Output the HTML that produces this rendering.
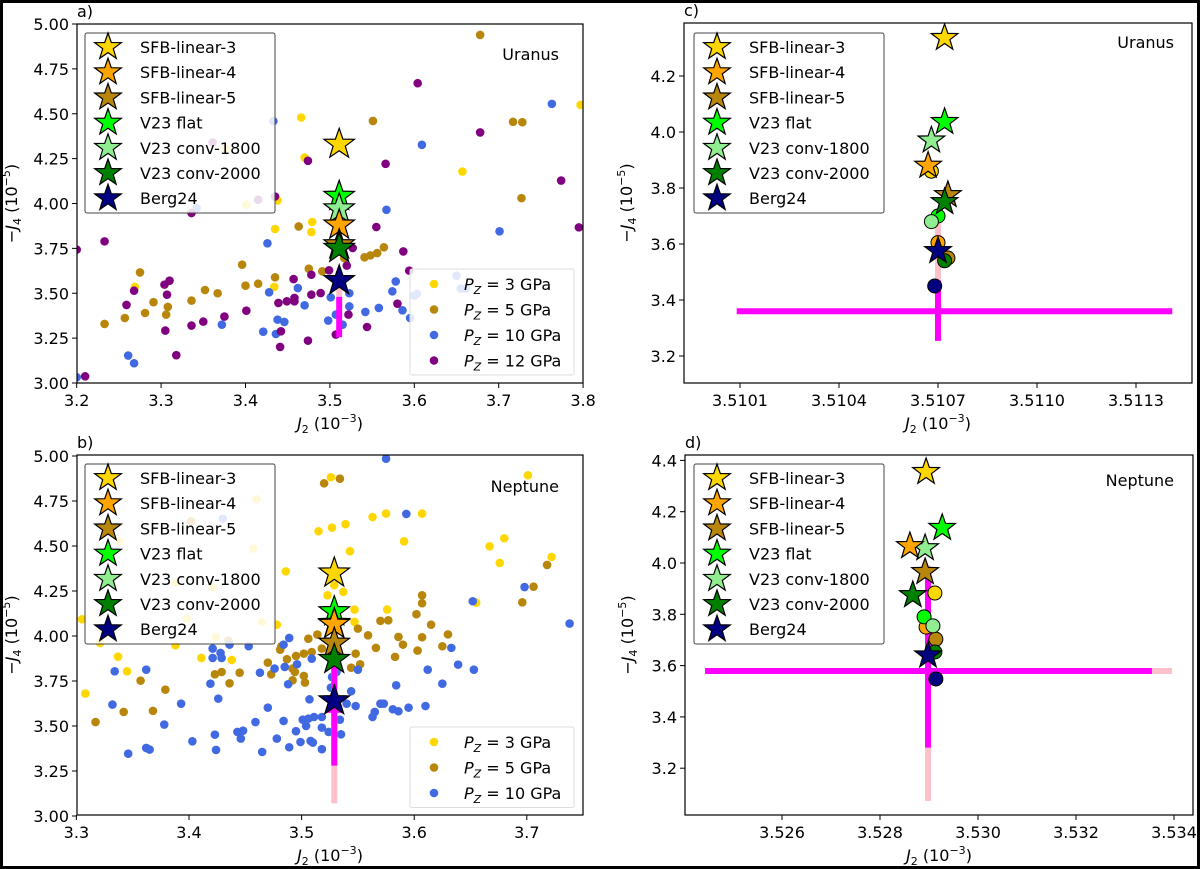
<!DOCTYPE html>
<html><head><meta charset="utf-8"><style>
body{margin:0;background:#fff;}
svg{display:block;font-family:"DejaVu Sans","Liberation Sans",sans-serif;}
</style></head><body>
<svg id="fig" width="1200" height="869" viewBox="0 0 1200 869" xmlns="http://www.w3.org/2000/svg">
<rect x="1.5" y="1.5" width="1197" height="866" fill="#fff" stroke="#000" stroke-width="3"/>
</svg>
<script>
// ---------- DATA ----------
const a3x=[3.466,3.470,3.657,3.797,3.438,3.479,3.435,3.478,3.434,3.269,3.377,3.401];
const a3y=[4.479,4.256,4.178,4.549,4.017,3.897,3.858,3.841,3.535,3.535,4.305,3.993];
const a5x=[3.678,3.551,3.717,3.728,3.727,3.463,3.396,3.475,3.491,3.435,3.415,3.400,3.352,3.367,3.336,3.291,3.275,3.308,3.281,3.306,3.257,3.233,3.541,3.548,3.556,3.564,3.517];
const a5y=[4.939,4.460,4.455,4.453,4.030,3.872,3.659,3.637,3.622,3.589,3.553,3.542,3.518,3.500,3.459,3.450,3.616,3.424,3.390,3.381,3.362,3.329,3.700,3.711,3.724,3.756,3.696];
const a10x=[3.433,3.609,3.763,3.701,3.567,3.426,3.578,3.574,3.428,3.462,3.501,3.523,3.523,3.542,3.558,3.586,3.595,3.470,3.438,3.446,3.372,3.421,3.436,3.498,3.515,3.507,3.261,3.268,3.200,3.650,3.603,3.600,3.655,3.661,3.342];
const a10y=[4.459,4.327,4.555,3.845,3.965,3.778,3.566,3.511,3.505,3.529,3.477,3.500,3.427,3.396,3.418,3.405,3.362,3.433,3.353,3.340,3.325,3.286,3.273,3.348,3.325,3.381,3.153,3.110,3.032,3.598,3.496,3.487,3.526,3.526,3.974];
const a12x=[3.604,3.678,3.474,3.566,3.774,3.795,3.435,3.336,3.233,3.200,3.527,3.587,3.555,3.594,3.520,3.478,3.499,3.457,3.304,3.310,3.268,3.307,3.489,3.478,3.439,3.449,3.458,3.458,3.259,3.375,3.350,3.336,3.305,3.401,3.441,3.474,3.442,3.507,3.544,3.580,3.522,3.318,3.210,3.361,3.415];
const a12y=[4.670,4.396,4.238,4.221,4.128,3.867,4.039,3.947,3.789,3.743,3.752,3.733,3.869,3.626,3.654,3.603,3.628,3.579,3.548,3.570,3.514,3.492,3.501,3.492,3.446,3.455,3.474,3.455,3.435,3.370,3.342,3.320,3.292,3.403,3.201,3.236,3.288,3.270,3.312,3.442,3.381,3.155,3.037,4.340,4.021];
const b3x=[3.526,3.575,3.563,3.607,3.539,3.527,3.515,3.591,3.543,3.667,3.680,3.676,3.722,3.701,3.486,3.529,3.537,3.523,3.547,3.576,3.547,3.655,3.305,3.337,3.345,3.308,3.411,3.438,3.478,3.460,3.457,3.402,3.338,3.388,3.421,3.398,3.465,3.424,3.388,3.321];
const b3y=[4.882,4.680,4.661,4.680,4.621,4.602,4.582,4.526,4.471,4.498,4.543,4.406,4.439,4.893,4.359,4.282,4.245,4.226,4.147,4.147,4.078,4.185,4.093,3.885,3.804,3.680,3.878,3.867,4.063,4.760,4.485,4.637,4.526,4.295,4.272,4.097,4.078,3.995,3.948,3.961];
const b5x=[3.520,3.534,3.607,3.607,3.602,3.615,3.696,3.706,3.718,3.570,3.577,3.559,3.550,3.586,3.590,3.566,3.583,3.603,3.607,3.625,3.630,3.548,3.552,3.544,3.506,3.514,3.518,3.509,3.502,3.495,3.481,3.487,3.470,3.473,3.492,3.494,3.502,3.503,3.492,3.423,3.429,3.445,3.436,3.357,3.379,3.342,3.368,3.317,3.402,3.435,3.482];
const b5y=[4.848,4.874,4.226,4.182,4.121,4.063,4.187,4.274,4.395,4.084,4.087,4.004,4.041,3.995,3.952,3.934,3.884,3.919,3.993,3.943,4.009,3.902,3.843,3.824,3.985,4.008,3.930,3.911,3.902,3.889,3.924,3.871,3.852,3.787,3.819,3.800,3.778,3.741,3.754,3.787,3.800,3.796,3.737,3.752,3.702,3.578,3.584,3.522,4.637,3.974,3.943];
const b10x=[3.575,3.593,3.430,3.652,3.698,3.738,3.633,3.639,3.653,3.612,3.625,3.584,3.489,3.484,3.453,3.436,3.421,3.428,3.421,3.429,3.362,3.334,3.476,3.485,3.496,3.509,3.463,3.488,3.550,3.544,3.419,3.426,3.332,3.393,3.470,3.507,3.527,3.531,3.526,3.540,3.548,3.570,3.573,3.581,3.586,3.595,3.610,3.565,3.563,3.501,3.506,3.511,3.518,3.534,3.484,3.459,3.378,3.448,3.443,3.423,3.446,3.403,3.478,3.495,3.504,3.518,3.524,3.535,3.499,3.508,3.510,3.489,3.518,3.465,3.424,3.362,3.365,3.346];
const b10y=[4.985,4.678,4.652,4.193,4.272,4.069,3.934,3.841,3.813,3.813,3.735,3.726,3.989,3.952,3.943,3.952,3.930,3.906,3.878,3.878,3.813,3.804,3.819,3.828,3.843,3.874,3.796,3.732,3.813,3.693,3.735,3.652,3.619,3.624,3.602,3.648,3.772,3.800,3.713,3.624,3.611,3.624,3.624,3.593,3.582,3.602,3.611,3.578,3.550,3.535,3.541,3.550,3.550,3.535,3.528,3.522,3.508,3.474,3.467,3.452,3.430,3.415,3.430,3.471,3.500,3.491,3.467,3.454,3.411,3.417,3.408,3.382,3.371,3.356,3.367,3.378,3.369,3.346];
const modelNames=["SFB-linear-3","SFB-linear-4","SFB-linear-5","V23 flat","V23 conv-1800","V23 conv-2000","Berg24"];
const aStarX=[3.511,3.511,3.511,3.511,3.511,3.511,3.511];
const aStarY=[4.33,3.88,3.77,4.04,3.97,3.75,3.57];
const bStarX=[3.529,3.529,3.529,3.529,3.529,3.529,3.529];
const bStarY=[4.35,4.065,3.96,4.135,4.07,3.87,3.64];
const cStarX=[3.51072,3.51067,3.51073,3.51072,3.51068,3.51072,3.5107];
const cStarY=[4.336,3.88,3.775,4.036,3.97,3.75,3.575];
const cCircX=[3.51068,3.5107,3.51073,3.5107,3.51068,3.51072,3.51069];
const cCircY=[3.86,3.605,3.55,3.70,3.68,3.54,3.45];
const dStarX=[3.52894,3.52861,3.52892,3.52927,3.52892,3.52867,3.52898];
const dStarY=[4.355,4.066,3.965,4.137,4.058,3.875,3.64];
const dCircX=[3.52912,3.52894,3.52914,3.5289,3.52908,3.52912,3.52914];
const dCircY=[3.883,3.75,3.703,3.79,3.755,3.653,3.548];
const aObs={x:3.511,yPink:[3.48,3.58],yMag:[3.255,3.48]};
const bObs={x:3.529,y:3.59,yPink:[3.07,4.0],yMag:[3.28,3.89],xMag:[3.5225,3.5355]};
const cObs={x:3.5107,y:3.36,yPink:[3.47,3.675],yMag:[3.254,3.47],xMag:[3.51009,3.51141]};
const dObs={x:3.52898,y:3.579,yPink:[3.072,3.99],yMag:[3.28,3.985],xMag:[3.52443,3.53355],xPink:[3.53355,3.53396]};
const aXT=[3.2,3.3,3.4,3.5,3.6,3.7,3.8], abYT=[3.00,3.25,3.50,3.75,4.00,4.25,4.50,4.75,5.00];
const bXT=[3.3,3.4,3.5,3.6,3.7];
const cXT=[3.5101,3.5104,3.5107,3.5110,3.5113], cYT=[3.2,3.4,3.6,3.8,4.0,4.2];
const dXT=[3.526,3.528,3.530,3.532,3.534], dYT=[3.2,3.4,3.6,3.8,4.0,4.2,4.4];

// ---------- RENDER ----------
const NS="http://www.w3.org/2000/svg", svg=document.getElementById('fig');
const starCols=["#FFD700","#FFA500","#B8860B","#00FF00","#90EE90","#008000","#000080"];
const scCols={p3:"#FFD700",p5:"#B8860B",p10:"#4169E1",p12:"#800080"};
function el(tag,attrs,parent){const e=document.createElementNS(NS,tag);for(const k in attrs)e.setAttribute(k,attrs[k]);(parent||svg).appendChild(e);return e;}
function starPts(cx,cy,R){let p=[];for(let i=0;i<10;i++){const r=i%2?R*0.4:R;const t=-Math.PI/2+i*Math.PI/5;p.push((cx+r*Math.cos(t)).toFixed(1)+","+(cy+r*Math.sin(t)).toFixed(1));}return p.join(" ");}
function mkAxis(box,x0v,x0p,sx,y0v,y0p,sy){return{box,X:v=>x0p+(v-x0v)*sx,Y:v=>y0p-(v-y0v)*sy};}
const A=mkAxis([77,24,583,383],3.2,76.7,844,5.0,24,179.5);
const B=mkAxis([77,455,583,815],3.4,189,1126,5.0,456,180);
const C=mkAxis([684,23,1192,383],3.5107,938,330000,4.0,132,280);
const D=mkAxis([685,455,1193,815],3.530,978,49000,4.0,563,256.5);

function panel(ax,id){
  const g=el('g',{});
  
  
  const [x1,y1,x2,y2]=ax.box;
  const cp=el('clipPath',{id:'clip'+id},g);el('rect',{x:x1,y:y1,width:x2-x1,height:y2-y1},cp);
  const plot=el('g',{'clip-path':'url(#clip'+id+')'},g);
  
  
  return {g,plot};
}
function frame(ax,g,id,xt,yt,xfmt,yfmt){
  const [x1,y1,x2,y2]=ax.box;
  const r=el('rect',{x:x1,y:y1,width:x2-x1,height:y2-y1,fill:'none',stroke:'#000','stroke-width':1.2},g);
  
  xt.forEach(v=>{const x=ax.X(v);el('line',{x1:x,x2:x,y1:y2,y2:y2+5,stroke:'#000'},g);
    const t=el('text',{x:x,y:y2+23,'font-size':16,'text-anchor':'middle'},g);t.textContent=xfmt(v);
    });
  yt.forEach(v=>{const y=ax.Y(v);el('line',{x1:x1-5,x2:x1,y1:y,y2:y,stroke:'#000'},g);
    const t=el('text',{x:x1-8,y:y+6,'font-size':16,'text-anchor':'end'},g);t.textContent=yfmt(v);
    });
  const cx=(x1+x2)/2;
  const xl=el('text',{x:cx,y:y2+46,'font-size':16,'text-anchor':'middle'},g);
  xl.innerHTML='<tspan font-style="italic">J</tspan><tspan font-size="11" dy="4">2</tspan><tspan dy="-4"> (10</tspan><tspan font-size="11" dy="-7">−3</tspan><tspan dy="7">)</tspan>';
  
  const ylx=x1-(id==='a'||id==='b'?60:52), yly=(y1+y2)/2;
  const yl=el('text',{x:ylx,y:yly,'font-size':16,'text-anchor':'middle',transform:`rotate(-90 ${ylx} ${yly})`},g);
  yl.innerHTML='−<tspan font-style="italic">J</tspan><tspan font-size="11" dy="4">4</tspan><tspan dy="-4"> (10</tspan><tspan font-size="11" dy="-7">−5</tspan><tspan dy="7">)</tspan>';
  
  const pl=el('text',{x:x1,y:y1-7,'font-size':16},g);pl.textContent=id+')';
  
}
function scatter(ax,parent,xs,ys,col,name){
  xs.forEach((x,i)=>{const c=el('circle',{cx:ax.X(x),cy:ax.Y(ys[i]),r:4.3,fill:col},parent);
    });
}
function vbar(ax,parent,x,r,col,name){const l=el('line',{x1:ax.X(x),x2:ax.X(x),y1:ax.Y(r[0]),y2:ax.Y(r[1]),stroke:col,'stroke-width':6},parent);
  }
function hbar(ax,parent,y,r,col,name){const l=el('line',{x1:ax.X(r[0]),x2:ax.X(r[1]),y1:ax.Y(y),y2:ax.Y(y),stroke:col,'stroke-width':6},parent);
  }
function stars(ax,parent,xs,ys,R){
  const order=[0,3,4,1,2,5,6];
  order.forEach(i=>{const s=el('polygon',{points:starPts(ax.X(xs[i]),ax.Y(ys[i]),R),fill:starCols[i],stroke:'#000','stroke-width':1.2},parent);
    });
}
function circles(ax,parent,xs,ys){
  xs.forEach((x,i)=>{const c=el('circle',{cx:ax.X(x),cy:ax.Y(ys[i]),r:7,fill:starCols[i],stroke:'#000','stroke-width':1},parent);
    });
}
function starLegend(g,x,y,w){
  const lg=el('g',{},g);
  el('rect',{x:x,y:y,width:w,height:180,fill:'#fff','fill-opacity':0.85,stroke:'#444','stroke-width':1,rx:2},lg);
  modelNames.forEach((n,i)=>{const cy=y+14+i*25.2;
    const e=el('g',{},lg);
    el('polygon',{points:starPts(x+23,cy,14),fill:starCols[i],stroke:'#000','stroke-width':1.2},e);
    const t=el('text',{x:x+55,y:cy+6,'font-size':16},e);t.textContent=n;});
}
function scLegend(g,x,y,items){
  const lg=el('g',{},g);
  el('rect',{x:x,y:y,width:164,height:items.length*25.5+4,fill:'#fff','fill-opacity':0.85,stroke:'#ddd','stroke-width':1,rx:2},lg);
  items.forEach((it,i)=>{const cy=y+15+i*25.5;
    const e=el('g',{},lg);
    el('circle',{cx:x+24,cy:cy,r:4.3,fill:it[1]},e);
    const t=el('text',{x:x+54,y:cy+6,'font-size':16},e);
    t.innerHTML='<tspan font-style="italic">P</tspan><tspan font-style="italic" font-size="11" dy="4">Z</tspan><tspan dy="-4"> = '+it[0]+' GPa</tspan>';});
}
function planet(g,x,y,name){const t=el('text',{x:x,y:y,'font-size':16,'text-anchor':'end'},g);t.textContent=name;
  }

let P=panel(A,'a');
scatter(A,P.plot,a3x,a3y,scCols.p3,'point-3gpa');scatter(A,P.plot,a5x,a5y,scCols.p5,'point-5gpa');
scatter(A,P.plot,a10x,a10y,scCols.p10,'point-10gpa');scatter(A,P.plot,a12x,a12y,scCols.p12,'point-12gpa');
vbar(A,P.plot,aObs.x,aObs.yPink,'#FFC0CB','obs-errorbar-wide');vbar(A,P.plot,aObs.x,aObs.yMag,'#FF00FF','obs-errorbar');
stars(A,P.plot,aStarX,aStarY,16);
frame(A,P.g,'a',aXT,abYT,v=>v.toFixed(1),v=>v.toFixed(2));
starLegend(P.g,85,33,190);scLegend(P.g,410,269,[["3",scCols.p3],["5",scCols.p5],["10",scCols.p10],["12",scCols.p12]]);
planet(P.g,559,60,'Uranus');
P=panel(B,'b');
scatter(B,P.plot,b3x,b3y,scCols.p3,'point-3gpa');scatter(B,P.plot,b5x,b5y,scCols.p5,'point-5gpa');scatter(B,P.plot,b10x,b10y,scCols.p10,'point-10gpa');
vbar(B,P.plot,bObs.x,bObs.yPink,'#FFC0CB','obs-errorbar-wide');vbar(B,P.plot,bObs.x,bObs.yMag,'#FF00FF','obs-errorbar');
hbar(B,P.plot,bObs.y,bObs.xMag,'#FF00FF','obs-errorbar-j2');
stars(B,P.plot,bStarX,bStarY,16);
frame(B,P.g,'b',bXT,abYT,v=>v.toFixed(1),v=>v.toFixed(2));
starLegend(P.g,85,464,190);scLegend(P.g,410,727,[["3",scCols.p3],["5",scCols.p5],["10",scCols.p10]]);
planet(P.g,559,492,'Neptune');
P=panel(C,'c');
hbar(C,P.plot,cObs.y,cObs.xMag,'#FF00FF','obs-errorbar-j2');
vbar(C,P.plot,cObs.x,cObs.yPink,'#FFC0CB','obs-errorbar-wide');vbar(C,P.plot,cObs.x,cObs.yMag,'#FF00FF','obs-errorbar');
circles(C,P.plot,cCircX,cCircY);stars(C,P.plot,cStarX,cStarY,14);
frame(C,P.g,'c',cXT,cYT,v=>v.toFixed(4),v=>v.toFixed(1));
starLegend(P.g,694,33,190);planet(P.g,1174,48,'Uranus');
P=panel(D,'d');
hbar(D,P.plot,dObs.y,dObs.xPink,'#FFC0CB','obs-errorbar-j2-wide');hbar(D,P.plot,dObs.y,dObs.xMag,'#FF00FF','obs-errorbar-j2');
vbar(D,P.plot,dObs.x,dObs.yPink,'#FFC0CB','obs-errorbar-wide');vbar(D,P.plot,dObs.x,dObs.yMag,'#FF00FF','obs-errorbar');
circles(D,P.plot,dCircX,dCircY);stars(D,P.plot,dStarX,dStarY,14);
frame(D,P.g,'d',dXT,dYT,v=>v.toFixed(3),v=>v.toFixed(1));
starLegend(P.g,694,464,190);planet(P.g,1174,486,'Neptune');
</script>
</body></html>
